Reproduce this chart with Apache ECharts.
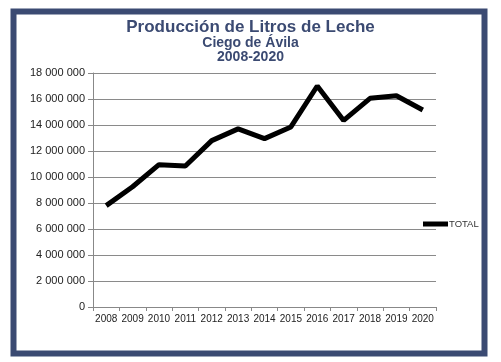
<!DOCTYPE html>
<html><head><meta charset="utf-8">
<script src="https://cdn.jsdelivr.net/npm/echarts@6/dist/echarts.min.js"></script>
<style>html,body{margin:0;padding:0;background:#fff}#c{width:501px;height:362px}</style>
</head><body><div id="c"></div>
<script>
const years = ['2008','2009','2010','2011','2012','2013','2014','2015','2016','2017','2018','2019','2020'];
const total = [7800000, 9250000, 10950000, 10850000, 12800000, 13700000, 12950000, 13850000, 17000000, 14350000, 16050000, 16250000, 15150000];
const seriesName = 'TOTAL';
const titleText = 'Producción de Litros de Leche';
const subText1 = 'Ciego de Ávila';
const subText2 = '2008-2020';

const navy = '#3b4a72';
const chart = echarts.init(document.getElementById('c'), null, {renderer:'canvas'});
chart.setOption({
  animation:false,
  backgroundColor:'#fff',
  graphic:[
    {type:'rect', shape:{x:13.5,y:11.5,width:471,height:342}, style:{fill:'none', stroke:navy, lineWidth:6}, z:-1},
    {type:'text', left:'center', top:19, style:{text:titleText, font:'bold 17px "Liberation Sans", Arial, sans-serif', fill:navy}},
    {type:'text', left:'center', top:36, style:{text:subText1, font:'bold 14px "Liberation Sans", Arial, sans-serif', fill:navy}},
    {type:'text', left:'center', top:50, style:{text:subText2, font:'bold 14px "Liberation Sans", Arial, sans-serif', fill:navy}}
  ],
  legend:{
    left:418, top:214, icon:'rect', itemWidth:25, itemHeight:5,
    data:[seriesName],
    textStyle:{fontSize:9.5, color:'#333', padding:[0,0,0,-4], fontFamily:'"Liberation Sans", Arial, sans-serif'}
  },
  grid:{left:93, right:65, top:73, bottom:55, containLabel:false},
  xAxis:{
    type:'category', data:years, boundaryGap:true,
    axisLine:{lineStyle:{color:'#888', width:1}},
    axisTick:{show:true, interval:0, length:4, lineStyle:{color:'#888'}},
    axisLabel:{interval:0, fontSize:10, color:'#222', margin:7, fontFamily:'"Liberation Sans", Arial, sans-serif'}
  },
  yAxis:{
    type:'value', min:0, max:18000000, interval:2000000,
    axisLine:{show:true, lineStyle:{color:'#888', width:1}},
    axisTick:{show:true, length:5, lineStyle:{color:'#888'}},
    splitLine:{show:true, lineStyle:{color:'#8a8a8a', width:1}},
    axisLabel:{fontSize:11, color:'#222', margin:8, fontFamily:'"Liberation Sans", Arial, sans-serif',
      formatter:v=>String(v).replace(/\B(?=(\d{3})+(?!\d))/g,' ')}
  },
  series:[{
    name:seriesName, type:'line', data:total, symbol:'none',
    lineStyle:{color:'#000', width:5}, itemStyle:{color:'#000'}
  }]
});
</script></body></html>
